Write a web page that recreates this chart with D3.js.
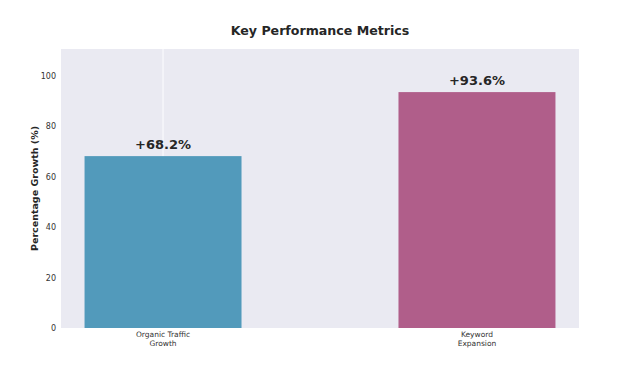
<!DOCTYPE html>
<html><head><meta charset="utf-8">
<script src="https://cdn.jsdelivr.net/npm/d3@7"></script>
<style>body{margin:0;background:#fff}svg{display:block}text{font-family:"DejaVu Sans",sans-serif}</style>
</head><body>
<script>
const categories = ["Organic Traffic\nGrowth", "Keyword\nExpansion"];
const values = [68.2, 93.6];
const colors = ["#529abb", "#b05e8a"];
const yTicks = [0, 20, 40, 60, 80, 100];

const W = 624, H = 366;
const m = {left: 61, right: 45, top: 49, bottom: 38};
const svg = d3.select("body").append("svg").attr("width", W).attr("height", H);
const pw = W - m.left - m.right, ph = H - m.top - m.bottom;
const g = svg.append("g").attr("transform", `translate(${m.left},${m.top})`);

const x = d3.scaleLinear().domain([-0.325, 1.325]).range([0, pw]);
const y = d3.scaleLinear().domain([0, 110.7]).range([ph, 0]);

g.append("rect").attr("width", pw).attr("height", ph).attr("fill", "#eaeaf2");
// single white vertical grid line at first category
g.append("line")
  .attr("x1", x(0)).attr("x2", x(0)).attr("y1", 0).attr("y2", ph)
  .attr("stroke", "#fafafd").attr("stroke-width", 1.2);

const bw = x(0.5) - x(0);
g.selectAll(".bar").data(values).join("rect")
  .attr("x", (d,i)=>x(i) - bw/2).attr("width", bw)
  .attr("y", d=>y(d)).attr("height", d=>ph - y(d))
  .attr("fill", (d,i)=>colors[i]);

g.selectAll(".lbl").data(values).join("text")
  .attr("x", (d,i)=>x(i)).attr("y", d=>y(d) - 7)
  .attr("text-anchor", "middle").attr("font-size", 13).attr("font-weight", "bold")
  .attr("fill", "#262626").text(d=>"+" + d.toFixed(1) + "%");

// y axis
const ya = g.append("g").call(d3.axisLeft(y).tickValues(yTicks).tickSize(0).tickPadding(5));
ya.select(".domain").remove();
ya.selectAll("text").attr("font-size", 8).attr("fill", "#333").style("font-family", "DejaVu Sans");

// x axis labels
const xa = g.append("g").attr("transform", `translate(0,${ph})`);
categories.forEach((c, i) => {
  const t = xa.append("text").attr("x", x(i)).attr("y", 9).attr("text-anchor", "middle")
    .attr("font-size", 7.5).attr("fill", "#333");
  c.split("\n").forEach((line, j) => {
    t.append("tspan").attr("x", x(i)).attr("dy", j === 0 ? 0 : 9).text(line);
  });
});

svg.append("text").attr("x", 320).attr("y", 35).attr("text-anchor", "middle")
  .attr("font-size", 12.6).attr("font-weight", "bold").attr("fill", "#262626")
  .text("Key Performance Metrics");

svg.append("text").attr("transform", `translate(38,${m.top + ph/2}) rotate(-90)`)
  .attr("text-anchor", "middle").attr("font-size", 9.5).attr("font-weight", "bold")
  .attr("fill", "#262626").text("Percentage Growth (%)");
</script>
</body></html>
